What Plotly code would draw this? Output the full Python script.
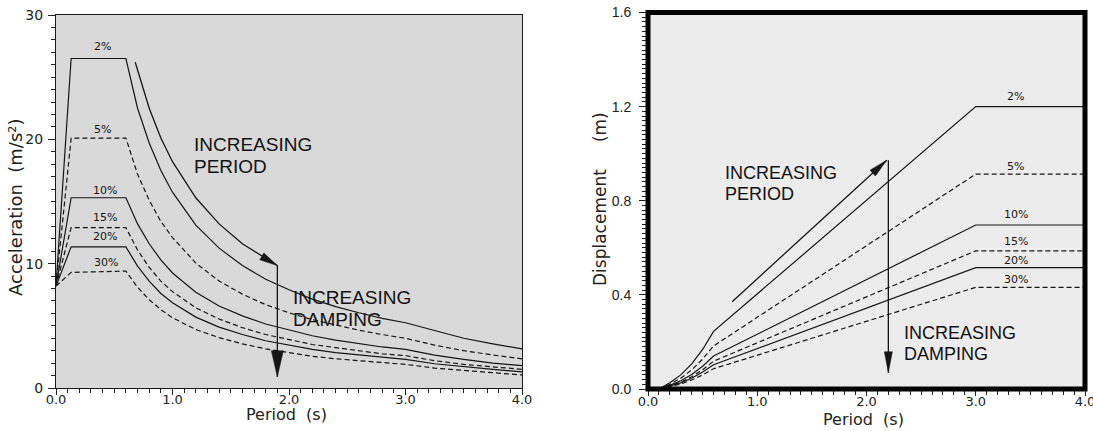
import math
import plotly.graph_objects as go

# ---------------- data ----------------
DAMPING = ["2%", "5%", "10%", "15%", "20%", "30%"]
DASHED = [False, True, False, True, False, True]

# Acceleration spectra (left panel)
T_ACC = [0.0, 0.13, 0.6, 0.7, 0.8, 0.9, 1.0, 1.2, 1.4, 1.6, 1.8, 2.0, 2.2, 2.4,
         2.6, 2.8, 3.0, 3.25, 3.5, 3.75, 4.0]
ACC_2 = [8.2, 26.5, 26.5, 22.5, 19.7, 17.5, 15.75, 13.1, 11.25, 9.85, 8.75, 7.9,
         7.15, 6.55, 6.05, 5.6, 5.25, 4.6, 4.0, 3.55, 3.15]
ACC_5 = [8.2, 20.1, 20.1, 17.2, 15.1, 13.4, 12.1, 10.05, 8.6, 7.55, 6.7, 6.05,
         5.5, 5.05, 4.65, 4.3, 4.0, 3.45, 3.0, 2.65, 2.35]
ACC_10 = [8.2, 15.3, 15.3, 13.2, 11.6, 10.3, 9.25, 7.7, 6.6, 5.8, 5.15, 4.65,
          4.2, 3.85, 3.55, 3.3, 3.1, 2.65, 2.3, 2.0, 1.8]
ACC_15 = [8.2, 12.9, 12.9, 11.1, 9.7, 8.6, 7.75, 6.45, 5.55, 4.85, 4.3, 3.9,
          3.5, 3.25, 3.0, 2.75, 2.6, 2.2, 1.9, 1.7, 1.5]
ACC_20 = [8.2, 11.35, 11.35, 9.8, 8.6, 7.6, 6.85, 5.7, 4.9, 4.3, 3.8, 3.45,
          3.1, 2.85, 2.65, 2.45, 2.3, 1.95, 1.7, 1.5, 1.3]
ACC_30 = [8.2, 9.3, 9.4, 8.1, 7.1, 6.3, 5.65, 4.7, 4.05, 3.55, 3.15, 2.85,
          2.55, 2.35, 2.2, 2.0, 1.9, 1.6, 1.4, 1.25, 1.05]
ACC = [ACC_2, ACC_5, ACC_10, ACC_15, ACC_20, ACC_30]

# Displacement spectra (right panel)
T_DISP = [0.1, 0.2, 0.3, 0.4, 0.5, 0.6, 3.0, 4.0]
DISP_2 = [0.0, 0.027, 0.06, 0.107, 0.168, 0.245, 1.2, 1.2]
DISP_5 = [0.0, 0.02, 0.046, 0.081, 0.127, 0.183, 0.913, 0.913]
DISP_10 = [0.0, 0.0155, 0.035, 0.062, 0.097, 0.14, 0.697, 0.697]
DISP_15 = [0.0, 0.013, 0.029, 0.052, 0.082, 0.118, 0.587, 0.587]
DISP_20 = [0.0, 0.0115, 0.026, 0.046, 0.072, 0.103, 0.516, 0.516]
DISP_30 = [0.0, 0.0095, 0.021, 0.038, 0.06, 0.086, 0.432, 0.432]
DISP = [DISP_2, DISP_5, DISP_10, DISP_15, DISP_20, DISP_30]

# "Increasing period" / "increasing damping" arrows
ACC_ARROW_T = [0.68, 0.8, 0.9, 1.0, 1.2, 1.4, 1.6, 1.8, 1.9]
ACC_ARROW_SA = [26.2, 22.5, 20.1, 18.2, 15.3, 13.2, 11.6, 10.4, 9.85]
ACC_DAMP_T = [1.9, 1.9]
ACC_DAMP_SA = [9.85, 0.9]
DISP_ARROW_T = [0.77, 2.185]
DISP_ARROW_SD = [0.371, 0.972]
DISP_DAMP_T = [2.2, 2.2]
DISP_DAMP_SD = [0.972, 0.069]

# label positions
ACC_LABEL_T = [0.40, 0.40, 0.42, 0.42, 0.42, 0.43]
ACC_LABEL_Y = [27.43, 20.76, 15.85, 13.68, 12.15, 10.06]
DISP_LABEL_T = [3.36, 3.36, 3.37, 3.37, 3.37, 3.37]
DISP_LABEL_Y = [1.244, 0.947, 0.742, 0.625, 0.548, 0.467]

# ---------------- layout geometry ----------------
W, H = 1093, 431


def px(x):
    return x / W


def py(y):
    return 1 - y / H


LX = [px(56), px(522)]
LY = [py(388), py(15)]
RX = [px(648), px(1085)]
RY = [py(389), py(12.5)]

INK = "#151515"
TICKFONT = dict(family="DejaVu Sans", size=13, color="#222")

fig = go.Figure()

for name, ys, dashed in zip(DAMPING, ACC, DASHED):
    fig.add_trace(go.Scatter(x=T_ACC, y=ys, mode="lines", name=name,
                             line=dict(color=INK, width=1.2,
                                       dash="5px,3px" if dashed else "solid"),
                             xaxis="x", yaxis="y", showlegend=False,
                             hoverinfo="skip"))
for name, ys, dashed in zip(DAMPING, DISP, DASHED):
    fig.add_trace(go.Scatter(x=T_DISP, y=ys, mode="lines", name=name,
                             line=dict(color=INK, width=1.2,
                                       dash="5px,3px" if dashed else "solid"),
                             xaxis="x2", yaxis="y2", showlegend=False,
                             hoverinfo="skip"))

for xs, ys, xa, ya in [(ACC_ARROW_T, ACC_ARROW_SA, "x", "y"),
                       (ACC_DAMP_T, ACC_DAMP_SA, "x", "y"),
                       (DISP_ARROW_T, DISP_ARROW_SD, "x2", "y2"),
                       (DISP_DAMP_T, DISP_DAMP_SD, "x2", "y2")]:
    fig.add_trace(go.Scatter(x=xs, y=ys, mode="lines",
                             line=dict(color=INK, width=1.3),
                             xaxis=xa, yaxis=ya, showlegend=False,
                             hoverinfo="skip"))

# pixel per data unit for arrowheads
ppx_l = (LX[1] - LX[0]) * W / 4.0
ppy_l = (LY[1] - LY[0]) * H / 30.0
ppx_r = (RX[1] - RX[0]) * W / 4.0
ppy_r = (RY[1] - RY[0]) * H / 1.6


def head_path(tail, tip, length, width, ppx, ppy):
    dx = (tip[0] - tail[0]) * ppx
    dy = (tip[1] - tail[1]) * ppy
    L = math.hypot(dx, dy)
    ux, uy = dx / L, dy / L
    bx, by = -ux * length, -uy * length
    qx, qy = -uy * width / 2, ux * width / 2
    p1 = (tip[0] + (bx + qx) / ppx, tip[1] + (by + qy) / ppy)
    p2 = (tip[0] + (bx - qx) / ppx, tip[1] + (by - qy) / ppy)
    return f"M {tip[0]},{tip[1]} L {p1[0]},{p1[1]} L {p2[0]},{p2[1]} Z"


shapes = [
    dict(type="rect", xref="x domain", yref="y domain", x0=0, x1=1, y0=0, y1=1,
         fillcolor="#d9d9d9", line=dict(width=0), layer="below"),
    dict(type="rect", xref="x2 domain", yref="y2 domain", x0=0, x1=1, y0=0, y1=1,
         fillcolor="#ececec", line=dict(width=0), layer="below"),
    dict(type="rect", xref="x2 domain", yref="y2 domain", x0=0, x1=1, y0=0, y1=1,
         fillcolor="rgba(0,0,0,0)", line=dict(width=5, color="#000"), layer="above"),
]
heads = [
    ("x", "y", (ACC_ARROW_T[-2], ACC_ARROW_SA[-2]), (ACC_ARROW_T[-1], ACC_ARROW_SA[-1]), 18, 8, ppx_l, ppy_l),
    ("x", "y", (ACC_DAMP_T[0], ACC_DAMP_SA[0]), (ACC_DAMP_T[1], ACC_DAMP_SA[1]), 26, 12, ppx_l, ppy_l),
    ("x2", "y2", (DISP_ARROW_T[0], DISP_ARROW_SD[0]), (DISP_ARROW_T[1], DISP_ARROW_SD[1]), 19, 8, ppx_r, ppy_r),
    ("x2", "y2", (DISP_DAMP_T[0], DISP_DAMP_SD[0]), (DISP_DAMP_T[1], DISP_DAMP_SD[1]), 21, 8, ppx_r, ppy_r),
]
for xr, yr, tail, tip, ln, wd, a, b in heads:
    shapes.append(dict(type="path", xref=xr, yref=yr,
                       path=head_path(tail, tip, ln, wd, a, b),
                       fillcolor=INK, line=dict(color=INK, width=0.5)))

annotations = []
for lbl, x, y in zip(DAMPING, ACC_LABEL_T, ACC_LABEL_Y):
    annotations.append(dict(x=x, y=y, xref="x", yref="y", text=lbl, showarrow=False,
                            xanchor="center", yanchor="middle",
                            font=dict(family="DejaVu Sans", size=11, color=INK)))
for lbl, x, y in zip(DAMPING, DISP_LABEL_T, DISP_LABEL_Y):
    annotations.append(dict(x=x, y=y, xref="x2", yref="y2", text=lbl, showarrow=False,
                            xanchor="center", yanchor="middle",
                            font=dict(family="DejaVu Sans", size=11, color=INK)))

BIG = dict(family="Liberation Sans", size=19, color="#111")
BIGR = dict(family="Liberation Sans", size=18, color="#111")
for txt, x, y, xr, yr, f in [
    ("INCREASING", 1.165, 19.55, "x", "y", BIG),
    ("PERIOD", 1.165, 17.78, "x", "y", BIG),
    ("INCREASING", 2.015, 7.24, "x", "y", BIG),
    ("DAMPING", 2.015, 5.47, "x", "y", BIG),
    ("INCREASING", 0.685, 0.918, "x2", "y2", BIGR),
    ("PERIOD", 0.685, 0.828, "x2", "y2", BIGR),
    ("INCREASING", 2.323, 0.239, "x2", "y2", BIGR),
    ("DAMPING", 2.323, 0.149, "x2", "y2", BIGR),
]:
    annotations.append(dict(x=x, y=y, xref=xr, yref=yr, text=txt, showarrow=False,
                            xanchor="left", yanchor="middle", font=f))

TITLE = dict(family="DejaVu Sans", color="#222")
annotations += [
    dict(x=px(15), y=py(207), xref="paper", yref="paper",
         text="Acceleration\u00a0\u00a0(m/s²)", textangle=-90, showarrow=False,
         xanchor="center", yanchor="middle", font=dict(TITLE, size=18)),
    dict(x=px(286), y=py(414), xref="paper", yref="paper",
         text="Period\u00a0\u00a0(s)", showarrow=False,
         xanchor="center", yanchor="middle", font=dict(TITLE, size=16)),
    dict(x=px(600), y=py(199), xref="paper", yref="paper",
         text="Displacement\u00a0\u00a0\u00a0\u00a0\u00a0(m)", textangle=-90, showarrow=False,
         xanchor="center", yanchor="middle", font=dict(TITLE, size=17)),
    dict(x=px(863), y=py(419), xref="paper", yref="paper",
         text="Period\u00a0\u00a0(s)", showarrow=False,
         xanchor="center", yanchor="middle", font=dict(TITLE, size=16)),
]

axis_common = dict(showgrid=False, zeroline=False, ticks="outside",
                   tickcolor="#222", tickwidth=1.2, fixedrange=True,
                   automargin=False, ticklabeloverflow="allow")

fig.update_layout(
    width=W, height=H, margin=dict(l=0, r=0, t=0, b=0),
    paper_bgcolor="white", plot_bgcolor="rgba(0,0,0,0)",
    xaxis=dict(axis_common, domain=LX, range=[0, 4], anchor="y", dtick=1,
               tickformat=".1f", ticklen=6, tickfont=TICKFONT, ticklabelstandoff=-7,
               showline=True, mirror=True, linecolor="#1a1a1a", linewidth=1.3,
               minor=dict(dtick=0.1, ticks="outside", ticklen=4, tickcolor="#222")),
    yaxis=dict(axis_common, domain=LY, range=[0, 30], anchor="x", dtick=10,
               ticklen=7, tickfont=dict(TICKFONT, size=14), ticklabelstandoff=2,
               showline=True, mirror=True, linecolor="#1a1a1a", linewidth=1.3,
               minor=dict(dtick=1, ticks="outside", ticklen=4, tickcolor="#222")),
    xaxis2=dict(axis_common, domain=RX, range=[0, 4], anchor="y2", dtick=1,
                tickformat=".1f", ticklen=6, tickfont=TICKFONT, ticklabelstandoff=-6,
                showline=False,
                minor=dict(dtick=0.1, ticks="outside", ticklen=5, tickcolor="#222")),
    yaxis2=dict(axis_common, domain=RY, range=[0, 1.6], anchor="x2", dtick=0.4,
                tickformat=".1f", ticklen=8, ticklabelstandoff=5,
                tickfont=dict(family="Liberation Sans", size=14, color="#222"),
                showline=False,
                minor=dict(dtick=0.02, ticks="outside", ticklen=5, tickcolor="#222")),
    shapes=shapes, annotations=annotations,
)

fig.write_html(
    "out.html",
    config={"displayModeBar": False},
    post_script="document.body.style.margin='0';document.body.style.overflow='hidden';",
)
